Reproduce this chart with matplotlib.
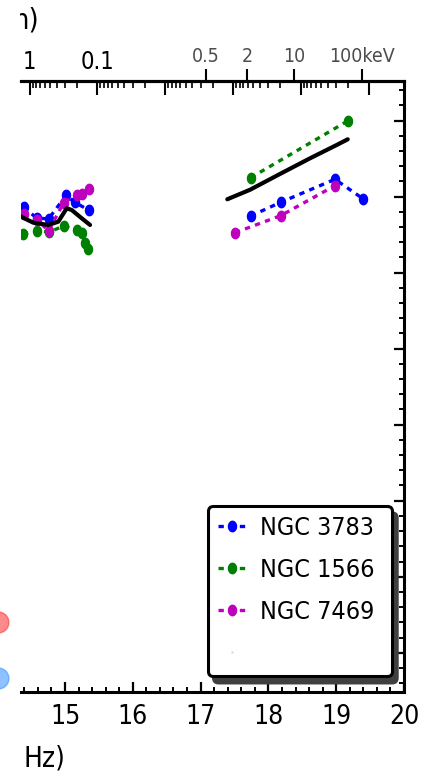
import numpy as np
import matplotlib
matplotlib.use("Agg")
import matplotlib.pyplot as plt
from matplotlib import font_manager
from matplotlib.lines import Line2D
from matplotlib.path import Path
from matplotlib.patches import Shadow
from matplotlib.ticker import MultipleLocator
from matplotlib.transforms import Bbox, TransformedBbox

# ---- data: log nu (Hz) vs log nuFnu ----------------------------------
# optical / UV photometry
ngc3783_opt_x = [14.388, 14.580, 14.757, 15.015, 15.147, 15.347]
ngc3783_opt_y = [-10.136, -10.280, -10.293, -9.984, -10.076, -10.175]
ngc1566_opt_x = [14.381, 14.587, 14.764, 14.985, 15.177, 15.251, 15.295, 15.339]
ngc1566_opt_y = [-10.491, -10.451, -10.464, -10.386, -10.438, -10.478, -10.609, -10.688]
ngc7469_opt_x = [14.388, 14.594, 14.757, 14.978, 15.170, 15.251, 15.347]
ngc7469_opt_y = [-10.228, -10.307, -10.451, -10.083, -9.978, -9.964, -9.905]

# X-ray fluxes
ngc3783_xr_x = [17.739, 18.181, 18.982, 19.400]
ngc3783_xr_y = [-10.254, -10.074, -9.771, -10.030]
ngc1566_xr_x = [17.739, 19.170]
ngc1566_xr_y = [-9.750, -9.004]
ngc7469_xr_x = [17.507, 18.181, 18.982]
ngc7469_xr_y = [-10.474, -10.250, -9.855]

# mean template
model_opt_x = [14.300, 14.351, 14.532, 14.754, 14.901, 15.025, 15.099, 15.246, 15.369]
model_opt_y = [-10.240, -10.263, -10.342, -10.372, -10.329, -10.153, -10.175, -10.284, -10.372]
model_xr_x = [17.394, 17.729, 18.171, 18.614, 19.007, 19.170]
model_xr_y = [-10.034, -9.909, -9.701, -9.495, -9.320, -9.245]

names = ["NGC 3783", "NGC 1566", "NGC 7469"]
colors = ["#0000ff", "#008000", "#bf00bf"]

# top axes
lam_major = [1, 0.1, 0.01, 1e-3, 1e-4, 1e-5]
lam_labels = ["1", "0.1", "", "", "", ""]
kev_ticks = [0.5, 2, 10, 100]
kev_labels = ["0.5", "2", "10", "100keV"]

C_UM = 2.998e14      # speed of light, micron / s
H_KEV = 4.1357e-18   # Planck constant, keV s


def lam_to_nu(lam):
    return np.log10(C_UM / np.asarray(lam, dtype=float))


def kev_to_nu(e):
    return np.log10(np.asarray(e, dtype=float) / H_KEV)


# pick a narrow face if one is around
ttf = font_manager.fontManager.ttflist
if any(f.name == "DejaVu Sans" and f.stretch == "condensed" for f in ttf):
    plt.rcParams["font.family"] = ["DejaVu Sans"]
    plt.rcParams["font.stretch"] = "condensed"
elif any(f.name == "Liberation Sans Narrow" for f in ttf):
    plt.rcParams["font.family"] = ["Liberation Sans Narrow", "DejaVu Sans"]
else:
    plt.rcParams["font.family"] = ["DejaVu Sans"]

# slightly tall oval marker
t = np.linspace(0, 2 * np.pi, 64)
oval = Path(np.column_stack([0.8 * np.cos(t), np.sin(t)]), closed=True)

W, H = 426, 777
fig = plt.figure(figsize=(W / 100, H / 100), dpi=100)
ax = fig.add_axes([21 / W, 85 / H, 383 / W, 611 / H])

style = dict(ls=(0, (1.6, 1.6)), lw=2.4, marker=oval, ms=8.5, mew=0)
series = [
    (ngc3783_opt_x, ngc3783_opt_y, ngc3783_xr_x, ngc3783_xr_y),
    (ngc1566_opt_x, ngc1566_opt_y, ngc1566_xr_x, ngc1566_xr_y),
    (ngc7469_opt_x, ngc7469_opt_y, ngc7469_xr_x, ngc7469_xr_y),
]
handles = []
for (ox, oy, xx, xy), c, name in zip(series, colors, names):
    h, = ax.plot(ox, oy, color=c, label=name, **style)
    ax.plot(xx, xy, color=c, **style)
    handles.append(h)

ax.plot(model_opt_x, model_opt_y, color="k", lw=3, solid_capstyle="round")
ax.plot(model_xr_x, model_xr_y, color="k", lw=3, solid_capstyle="round")

ax.set_xlim(14.351, 20.0)
ax.set_ylim(-16.517, -8.478)

for side in ["top", "right", "bottom"]:
    ax.spines[side].set_linewidth(2.2)
ax.spines["left"].set_visible(False)

ax.xaxis.set_major_locator(MultipleLocator(1))
ax.xaxis.set_minor_locator(MultipleLocator(0.2))
ax.yaxis.set_major_locator(MultipleLocator(1))
ax.yaxis.set_minor_locator(MultipleLocator(0.2))
ax.yaxis.tick_right()
ax.tick_params(axis="x", which="both", direction="in", top=False, bottom=True,
               labelsize=19, pad=9)
ax.tick_params(axis="y", which="both", direction="in", left=False, right=True,
               labelright=False, labelleft=False)
ax.tick_params(which="major", length=7, width=1.6)
ax.tick_params(which="minor", length=3.5, width=1.4)

# wavelength scale along the top
ax_lam = ax.twiny()
lam_minor = [k * d for d in lam_major for k in range(2, 10)]
ax_lam.set_xticks(lam_to_nu(lam_major))
ax_lam.set_xticklabels(lam_labels)
ax_lam.set_xticks(lam_to_nu(lam_minor), minor=True)
ax_lam.set_xlim(ax.get_xlim())
ax_lam.tick_params(which="both", direction="in", labelsize=17, pad=5)
ax_lam.tick_params(which="major", length=10, width=1.5)
ax_lam.tick_params(which="minor", length=5, width=1.2)

# photon energy scale along the top
ax_kev = ax.twiny()
ax_kev.set_xticks(kev_to_nu(kev_ticks))
ax_kev.set_xticklabels(kev_labels)
ax_kev.set_xlim(ax.get_xlim())
ax_kev.tick_params(which="major", direction="out", length=8.5, width=1.5,
                   labelsize=14, labelcolor="0.3", pad=2)
ax_kev.tick_params(which="minor", bottom=False, top=False)

for tw in (ax_lam, ax_kev):
    for side in ["left", "right", "bottom"]:
        tw.spines[side].set_visible(False)
    tw.spines["top"].set_linewidth(2.2)

# empty fourth row keeps the key as tall and wide as the original layout
blank = Line2D([], [], ls="none", marker=".", ms=1.5, color="0.85")
leg = ax.legend(handles=handles + [blank], labels=names + [" " * 17],
                loc="upper left", bbox_to_anchor=(208 / W, 1 - 506 / H),
                bbox_transform=fig.transFigure, borderaxespad=0,
                fontsize=18, handlelength=1.1, handletextpad=0.6,
                labelspacing=0.72, borderpad=0.4, numpoints=1,
                fancybox=True, framealpha=1, edgecolor="k")
leg.get_frame().set_linewidth(2.2)

# axis titles, partly cut off at the left border
clip = TransformedBbox(Bbox([[20 / W, 0], [1, 1]]), fig.transFigure)
top_t = fig.text(39 / W, 1 - 20 / H, "m)", ha="right", va="center", fontsize=21)
top_t.set_clip_box(clip)
top_t.set_clip_on(True)
fig.text(65 / W, 1 - 758 / H, "Hz)", ha="right", va="center", fontsize=20)

# markers from the neighbouring panel's key
for yy, c in [(622, "#ff2a2a"), (678, "#2f8fff")]:
    fig.add_artist(Line2D([-2 / W], [1 - yy / H], transform=fig.transFigure,
                          marker="o", ms=15, mfc=c, mec=c, alpha=0.55, ls="none"))

# heavier drop shadow under the key
fig.canvas.draw()
sh = Shadow(leg.legendPatch, 4, -5, facecolor="0.25", edgecolor="0.25",
            alpha=1, zorder=leg.get_zorder() - 0.1)
ax.add_artist(sh)
sh.set_clip_on(False)

fig.savefig("out.png", dpi=100)
